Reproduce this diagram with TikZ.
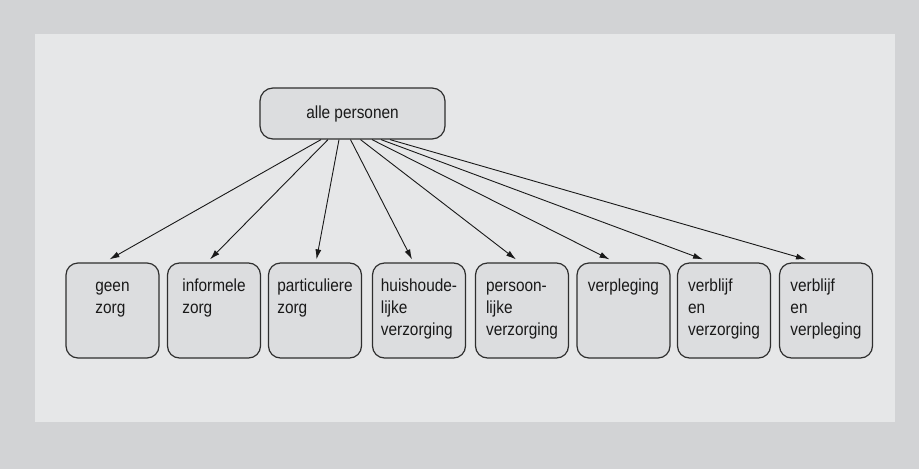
\documentclass[tikz,border=0pt]{standalone}
\usepackage{fontspec}
\setmainfont{Liberation Sans}[FakeStretch=0.88]
\usetikzlibrary{arrows.meta}
\definecolor{outerbg}{HTML}{D2D3D5}
\definecolor{panelbg}{HTML}{E6E7E8}
\definecolor{boxfill}{HTML}{DCDDDF}
\definecolor{edge}{HTML}{2E2E2E}
\begin{document}
\begin{tikzpicture}[x=1pt,y=-1pt,
  font=\fontsize{17.5}{22}\selectfont,
  topbox/.style={draw=edge,fill=boxfill,line width=1.2pt,rounded corners=13pt,
    minimum width=185pt,minimum height=51pt,inner sep=0pt},
  catbox/.style={draw=edge,fill=boxfill,line width=1.2pt,rounded corners=12pt,
    minimum width=93pt,minimum height=95pt,inner sep=0pt},
  cattext/.style={align=left,anchor=north,inner sep=0pt,text=black!90},
  arr/.style={draw=black!90,line width=0.9pt,-{Latex[length=10pt,width=6pt]}}]
\useasboundingbox (0,0) rectangle (919,469);
\fill[outerbg] (0,0) rectangle (919,469);
\fill[panelbg] (35,34) rectangle (895,422);
\node[topbox,text=black!90] (top) at (352.5,113.5) {alle personen};
\foreach \i/\x in {1/112.5,2/214,3/315,4/419,5/522,6/623.5,7/724,8/826}{
  \node[catbox] (b\i) at (\x,310.5) {};
}
\node[cattext] (t1) at ([yshift=-13.3pt]b1.north) {\strut geen\\zorg};
\node[cattext] (t2) at ([yshift=-13.3pt]b2.north) {\strut informele\\zorg};
\node[cattext] (t3) at ([yshift=-13.3pt]b3.north) {\strut particuliere\\zorg};
\node[cattext] (t4) at ([yshift=-13.3pt]b4.north) {\strut huishoude-\\lijke\\verzorging};
\node[cattext] (t5) at ([yshift=-13.3pt]b5.north) {\strut persoon-\\lijke\\verzorging};
\node[cattext] (t6) at ([yshift=-13.3pt]b6.north) {\strut verpleging};
\node[cattext] (t7) at ([yshift=-13.3pt]b7.north) {\strut verblijf\\en\\verzorging};
\node[cattext] (t8) at ([yshift=-13.3pt]b8.north) {\strut verblijf\\en\\verpleging};
\foreach \i/\s/\e in {1/-31.5/-3,2/-24.5/-4,3/-13.5/1.5,4/-2/-7,5/8/-6,6/19.5/-14,7/28.5/-21,8/37.5/-20}{
  \draw[arr] ([xshift=\s pt]top.south) -- ([xshift=\e pt,yshift=3pt]b\i.north);
}
\end{tikzpicture}
\end{document}
